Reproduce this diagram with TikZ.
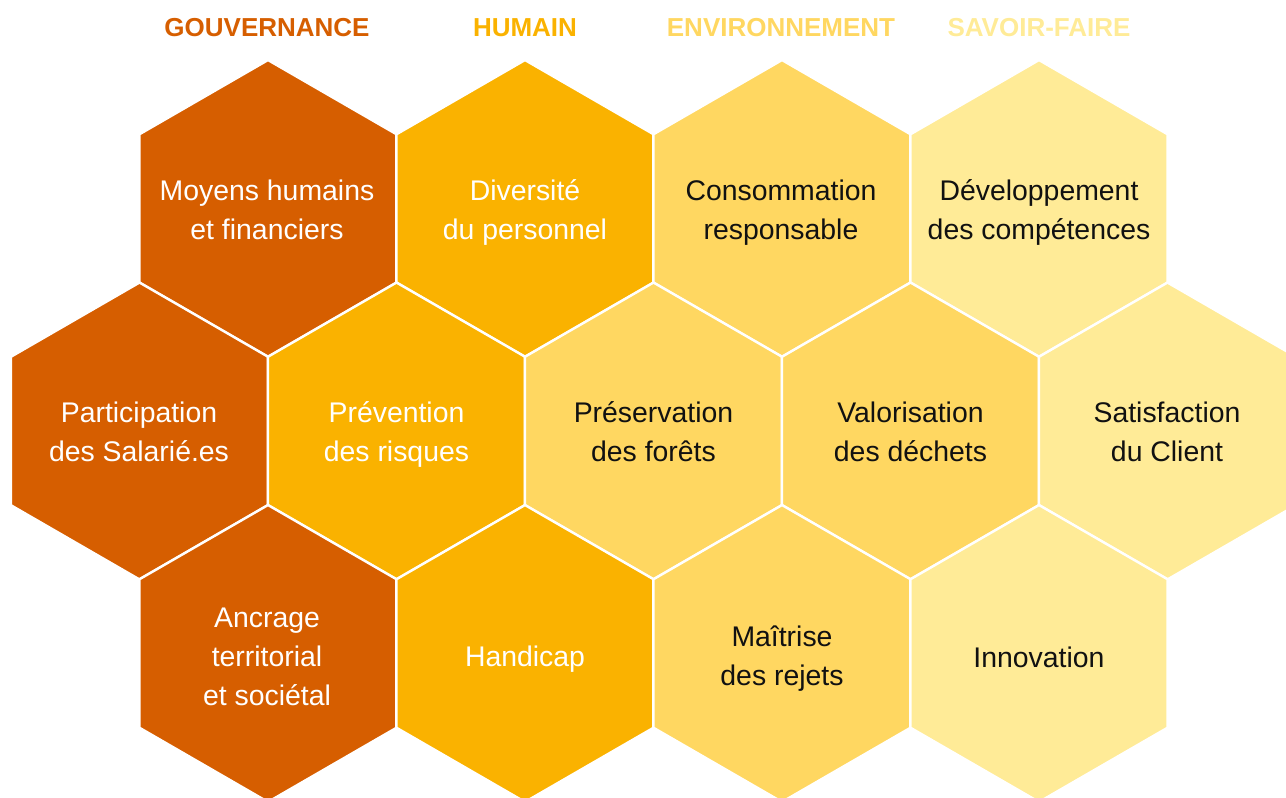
\documentclass[tikz,border=0pt]{standalone}
\usepackage{fontspec}
\setmainfont{Liberation Sans}
\definecolor{gov}{RGB}{214,94,0}
\definecolor{hum}{RGB}{250,178,0}
\definecolor{env}{RGB}{255,215,97}
\definecolor{sav}{RGB}{255,235,151}
\definecolor{ink}{RGB}{17,17,17}
\tikzset{
  hexa/.pic={\path[pic actions] (0,-148.5) -- (128.6,-74.25) -- (128.6,74.25) -- (0,148.5) -- (-128.6,74.25) -- (-128.6,-74.25) -- cycle;},
  cell/.style={fill=#1, draw=white, line width=2.5pt, line join=miter},
  lbl/.style={align=center, inner sep=0pt, font=\fontsize{28.4}{39}\selectfont},
  lw/.style={lbl, text=white},
  lk/.style={lbl, text=ink},
  head/.style={inner sep=0pt, font=\bfseries\fontsize{26}{30}\selectfont, text=#1}
}
\begin{document}
\begin{tikzpicture}[x=1pt,y=-1pt]
\useasboundingbox (0,0) rectangle (1286,798);
\clip (0,0) rectangle (1286,798);
% row 1
\pic[cell=gov] at (268,208.5) {hexa};
\pic[cell=hum] at (525,208.5) {hexa};
\pic[cell=env] at (782,208.5) {hexa};
\pic[cell=sav] at (1039,208.5) {hexa};
% row 2
\pic[cell=gov] at (139.5,431) {hexa};
\pic[cell=hum] at (396.5,431) {hexa};
\pic[cell=env] at (653.5,431) {hexa};
\pic[cell=env] at (910.5,431) {hexa};
\pic[cell=sav] at (1167.5,431) {hexa};
% row 3
\pic[cell=gov] at (268,653.5) {hexa};
\pic[cell=hum] at (525,653.5) {hexa};
\pic[cell=env] at (782,653.5) {hexa};
\pic[cell=sav] at (1039,653.5) {hexa};
% headers
\node[head=gov] (h1) at (267,28) {GOUVERNANCE};
\node[head=hum] (h2) at (525,28) {HUMAIN};
\node[head=env] (h3) at (781,28) {ENVIRONNEMENT};
\node[head=sav] (h4) at (1039,28) {SAVOIR-FAIRE};
% labels
\node[lw] (t11) at (267,210) {Moyens humains\\et financiers};
\node[lw] (t12) at (525,212) {Diversité\\du personnel};
\node[lk] (t13) at (781,213) {Consommation\\responsable};
\node[lk] (t14) at (1039,212) {Développement\\des compétences};
\node[lw] (t21) at (139,431.5) {Participation\\des Salarié.es};
\node[lw] (t22) at (396.5,434) {Prévention\\des risques};
\node[lk] (t23) at (653.5,432) {Préservation\\des forêts};
\node[lk] (t24) at (910.5,432) {Valorisation\\des déchets};
\node[lk] (t25) at (1167,432) {Satisfaction\\du Client};
\node[lw] (t31) at (267,657) {Ancrage\\territorial\\et sociétal};
\node[lw] (t32) at (525,659) {Handicap};
\node[lk] (t33) at (782,659) {Maîtrise\\des rejets};
\node[lk] (t34) at (1039,657) {Innovation};
\end{tikzpicture}
\end{document}
